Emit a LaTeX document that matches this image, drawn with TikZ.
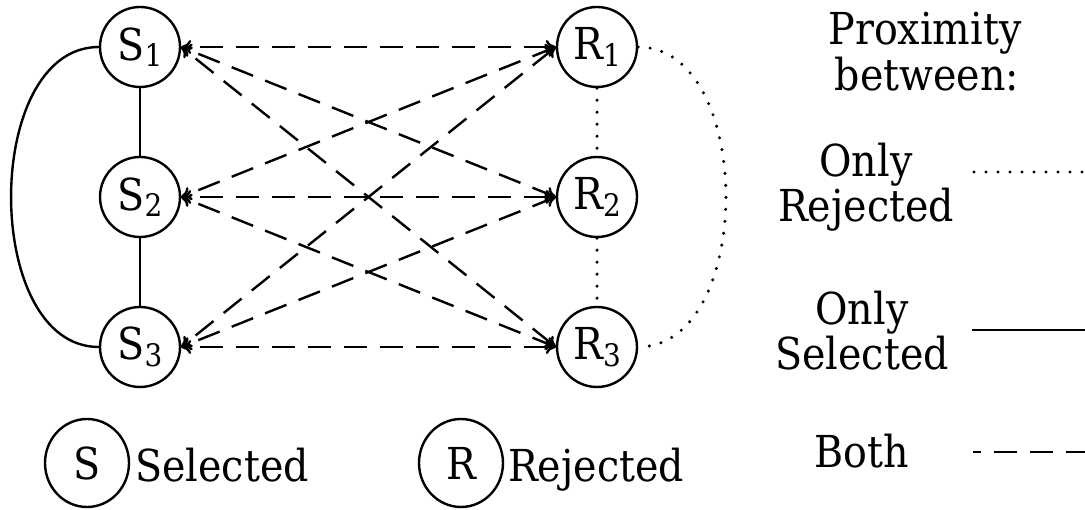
\documentclass[tikz,border=0pt]{standalone}
\usepackage{fontspec}
\setmainfont[FakeStretch=0.9]{DejaVu Serif}
\usetikzlibrary{arrows.meta,shapes.geometric}
\newcommand{\bigtxt}{\fontsize{44}{46}\selectfont}
\newcommand{\subidx}[1]{\raisebox{-0.15em}{\fontsize{31}{31}\selectfont #1}}
\tikzset{
  vtx/.style={circle, draw, line width=2.4pt, minimum size=80pt, inner sep=0pt, font=\bigtxt},
  lvtx/.style={ellipse, draw, line width=2.4pt, minimum width=84pt, minimum height=88pt, inner sep=0pt, font=\bigtxt},
  lbl/.style={anchor=base, inner sep=0pt, font=\bigtxt},
  selline/.style={line width=2.4pt},
  rejline/.style={line width=3.4pt, line cap=round, dash pattern=on 0pt off 12pt},
  bothline/.style={line width=2.4pt, dash pattern=on 23pt off 13pt, dash phase=20pt},
  botharrow/.style={bothline, {To[length=10pt,width=14pt]}-{To[length=10pt,width=14pt]}}
}
\begin{document}
\begin{tikzpicture}[x=1pt,y=-1pt]
\useasboundingbox (0,0) rectangle (1085,510);
% main nodes
\node[vtx] (S1) at (140,47) {S\subidx{1}};
\node[vtx] (S2) at (140,197) {S\subidx{2}};
\node[vtx] (S3) at (140,347) {S\subidx{3}};
\node[vtx] (R1) at (597,47) {R\subidx{1}};
\node[vtx] (R2) at (597,197) {R\subidx{2}};
\node[vtx] (R3) at (597,347) {R\subidx{3}};
% selected links
\draw[selline] (S1) -- (S2);
\draw[selline] (S2) -- (S3);
\draw[selline] (S1.west) to[out=180,in=180] (S3.west);
% rejected links
\draw[rejline] (R1) -- (R2);
\draw[rejline] (R2) -- (R3);
\draw[rejline] (R1.east) to[out=0,in=0] (R3.east);
% both links
\foreach \s in {1,2,3}{
  \foreach \r in {1,2,3}{
    \draw[botharrow] (S\s.east) -- (R\r.west);
  }
}
% legend right
\node[lbl] (tP) at (925,45) {Proximity};
\node[lbl] (tB) at (927,91) {between:};
\node[lbl] (tO1) at (866,177) {Only};
\node[lbl] (tR) at (866,222) {Rejected};
\node[lbl] (tO2) at (862,325) {Only};
\node[lbl] (tS) at (862,370) {Selected};
\node[lbl] (tBo) at (862,468) {Both};
\coordinate (d1a) at (974,172); \coordinate (d1b) at (1085,172);
\coordinate (d2a) at (972,330); \coordinate (d2b) at (1085,330);
\coordinate (d3a) at (973,452); \coordinate (d3b) at (1085,452);
\draw[rejline] (d1a) -- (d1b);
\draw[selline] (d2a) -- (d2b);
\draw[line width=2.4pt, dash pattern=on 23pt off 13pt, dash phase=15pt] (d3a) -- (d3b);
% legend bottom
\node[lvtx] (LS) at (87,463) {S};
\node[lbl] (tSel) at (222,482) {Selected};
\node[lvtx] (LR) at (461,463) {R};
\node[lbl] (tRej) at (596,482) {Rejected};
\end{tikzpicture}
\end{document}
